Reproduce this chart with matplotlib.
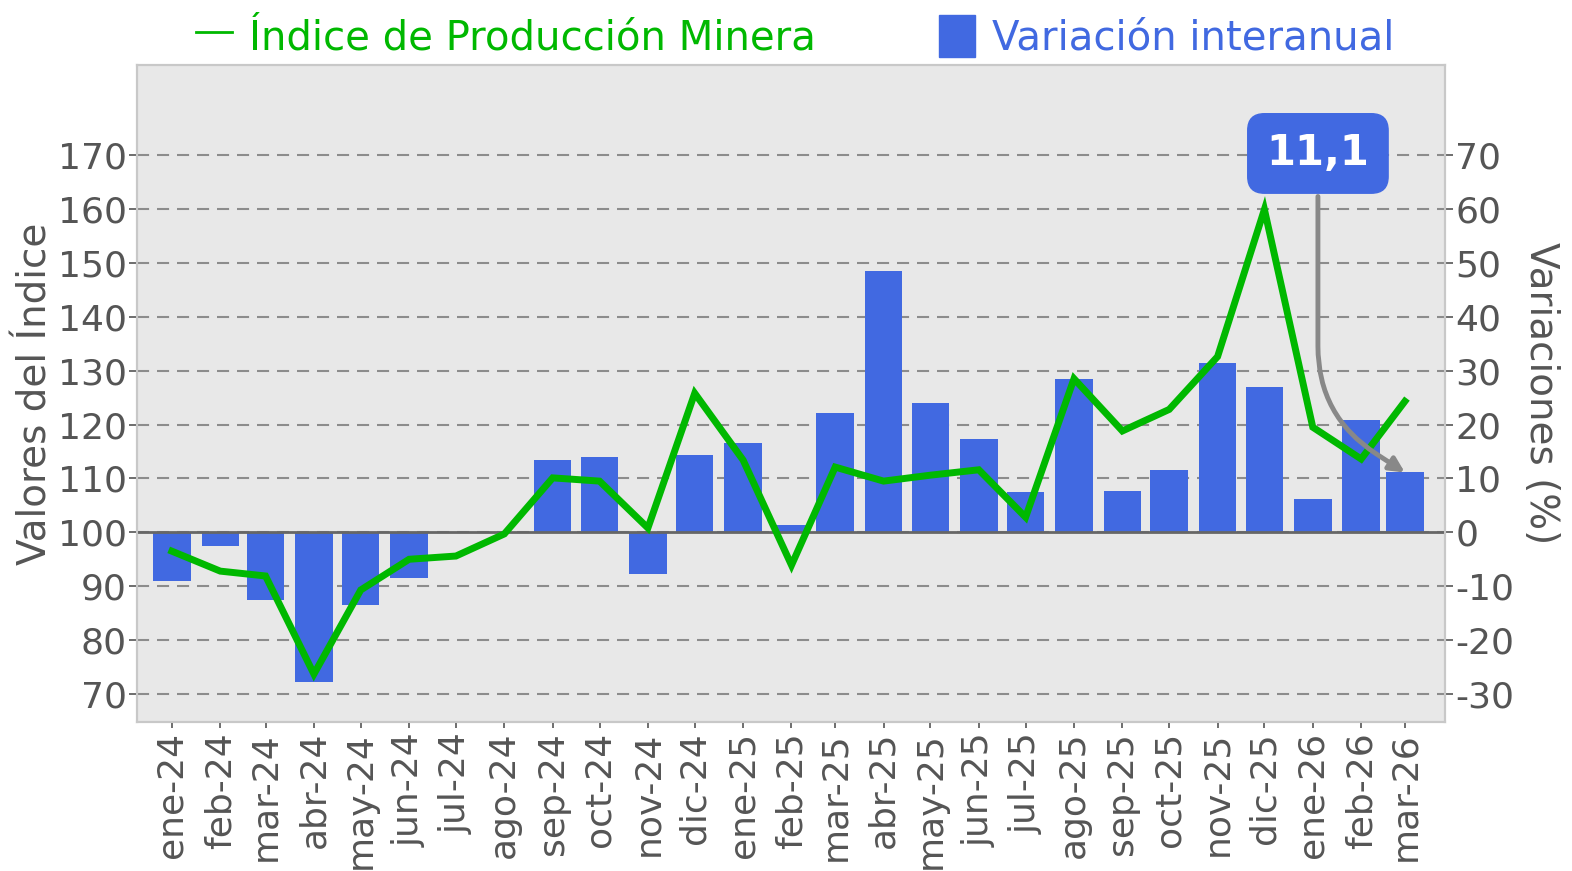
import pandas as pd
import matplotlib
matplotlib.use("Agg")
import matplotlib.pyplot as plt
import matplotlib.dates as mdates
from matplotlib.lines import Line2D
from matplotlib.patches import Patch

# datos
meses = ["ene-24","feb-24","mar-24","abr-24","may-24","jun-24","jul-24","ago-24","sep-24","oct-24","nov-24","dic-24",
         "ene-25","feb-25","mar-25","abr-25","may-25","jun-25","jul-25","ago-25","sep-25","oct-25","nov-25","dic-25",
         "ene-26","feb-26","mar-26"]
fechas = pd.date_range("2024-01-01", periods=len(meses), freq="MS")
indice = [96.5, 92.8, 91.9, 73.7, 89.3, 95.0, 95.6, 99.7, 110.1, 109.5, 100.8, 125.8,
          113.4, 93.9, 112.1, 109.5, 110.6, 111.6, 102.8, 128.5, 118.8, 122.8, 132.6, 159.9,
          119.5, 113.6, 124.3]
variacion = [-9.1, -2.6, -12.6, -27.8, -13.4, -8.5, 0.0, 0.0, 13.5, 13.9, -7.8, 14.3,
             16.5, 1.3, 22.1, 48.4, 23.9, 17.4, 7.4, 28.5, 7.6, 11.6, 31.4, 27.0,
             6.2, 20.9, 11.1]
ticks_izq = [70, 80, 90, 100, 110, 120, 130, 140, 150, 160, 170]
ticks_der = [-30, -20, -10, 0, 10, 20, 30, 40, 50, 60, 70]

verde = "#00b800"
azul = "#4169e1"
gris = "#555555"

fig = plt.figure(figsize=(15.72, 8.71), dpi=100)
ax = fig.add_axes([0.0871, 0.171, 0.832, 0.7544])
ax2 = ax.twinx()

# fondo y grid en el eje derecho (debajo de las barras)
ax.set_zorder(ax2.get_zorder() + 1)
ax.patch.set_visible(False)
ax2.patch.set_visible(True)
ax2.patch.set_facecolor("#e8e8e8")

ax2.bar(fechas, variacion, width=24, color=azul, zorder=3)
ax2.axhline(0, color="#666666", lw=2, zorder=4)
ax2.set_yticks(ticks_der)
ax2.set_yticklabels([str(t) for t in ticks_der])
ax2.yaxis.grid(True, color="#8c8c8c", lw=1.5, linestyle=(0, (5.8, 3.8)), zorder=1)
ax2.set_axisbelow(True)

ax.plot(fechas, indice, color=verde, lw=5, solid_joinstyle="miter", zorder=5)
ax.set_yticks(ticks_izq)
ax.set_ylim(64.8, 186.7)
ax2.set_ylim(64.8 - 100, 186.7 - 100)

ax.set_xticks(fechas)
ax.set_xticklabels(meses, rotation=90)
ax.set_xlim(fechas[0] - pd.Timedelta(days=22.4), fechas[-1] + pd.Timedelta(days=25.6))

for a in (ax, ax2):
    a.tick_params(labelsize=26, colors=gris, length=6, width=1.2, pad=1.5)
    for s in a.spines.values():
        s.set_color("#c8c8c8")
        s.set_linewidth(1.5)
ax.tick_params(axis="x", length=4, pad=3)

ax.set_ylabel("Valores del Índice", fontsize=28, color=gris, labelpad=2)
ax2.set_ylabel("Variaciones (%)", fontsize=28, color=gris, rotation=270, labelpad=33)

# anotación último dato
ax.annotate(f"{variacion[-1]:.1f}".replace(".", ","),
            xy=(mdates.date2num(fechas[-1]), variacion[-1]), xycoords=ax2.transData,
            xytext=(-62.6, 229.7), textcoords="offset points",
            ha="center", va="center", fontsize=30, fontweight="bold", color="white",
            bbox=dict(boxstyle="round,pad=0.45,rounding_size=0.4", fc=azul, ec=azul),
            arrowprops=dict(arrowstyle="-|>", color="#888888", lw=3.5, mutation_scale=22,
                            shrinkA=2, shrinkB=0,
                            connectionstyle="angle,angleA=90,angleB=-33,rad=70"),
            zorder=10)

handles = [Line2D([0], [0], color=verde, lw=2), Patch(color=azul)]
leg = fig.legend(handles, ["Índice de Producción Minera", "Variación interanual"],
                 loc="center", bbox_to_anchor=(0.506, 0.958), ncol=2, frameon=False,
                 fontsize=29.0, handlelength=0.9, handleheight=1.25, handletextpad=0.42,
                 columnspacing=3.05)
for t, c in zip(leg.get_texts(), [verde, azul]):
    t.set_color(c)

plt.savefig("out.png", dpi=100)
